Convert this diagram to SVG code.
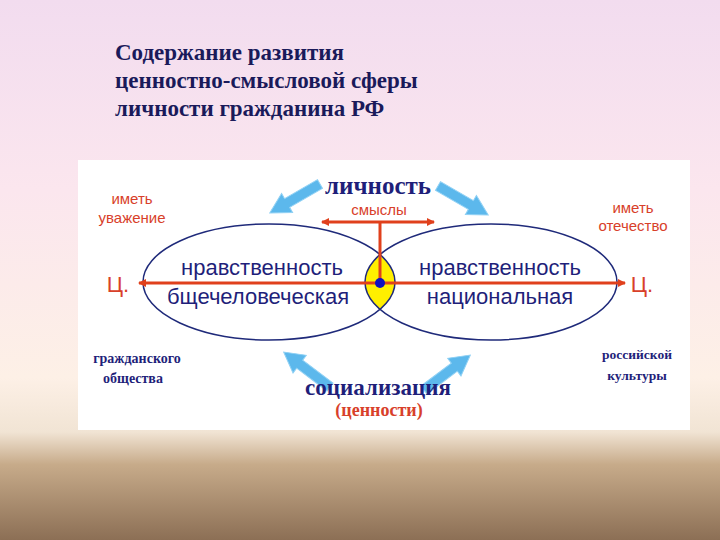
<svg xmlns="http://www.w3.org/2000/svg" width="720" height="540" viewBox="0 0 720 540">
<defs>
<linearGradient id="bg" x1="0" y1="0" x2="0" y2="1">
<stop offset="0" stop-color="#f2dcef"/>
<stop offset="0.35" stop-color="#fbe6ee"/>
<stop offset="0.7" stop-color="#fdf0e6"/>
<stop offset="0.8" stop-color="#f1e4d4"/>
<stop offset="0.86" stop-color="#c7ab8a"/>
<stop offset="1" stop-color="#8c6f55"/>
</linearGradient>
<marker id="ra" markerWidth="8" markerHeight="8" refX="7" refY="4" orient="auto-start-reverse" markerUnits="userSpaceOnUse"><path d="M0,0 L8,4 L0,8 Z" fill="#e0401c"/></marker>
<path id="barrow" d="M0,-5 L38,-5 L38,-11 L58,0 L38,11 L38,5 L0,5 Z"/>
</defs>
<style>
.nav{fill:#1f1f7a}
.ser{font-family:"Liberation Serif",serif;font-weight:bold}
.san{font-family:"Liberation Sans",Arial,sans-serif}
.red{fill:#d8402a}
.ell{fill:none;stroke:#1f2a7a;stroke-width:1.5}
.bl{fill:#5cb8ec;stroke:#8fd0f4;stroke-width:1}
.ln{stroke:#e0401c;stroke-width:3;fill:none}
</style>
<rect width="720" height="540" fill="url(#bg)"/>
<g id="title" class="ser" font-size="23" fill="#1a1a5a">
<text x="115" y="60">Содержание развития</text>
<text x="115" y="88">ценностно-смысловой сферы</text>
<text x="115" y="116">личности гражданина РФ</text>
</g>
<rect x="78" y="160" width="612" height="270" fill="#ffffff"/>
<g id="ellipses">
<path d="M380,254.6 A126 58 0 0 1 380,309.4 A126 58 0 0 1 380,254.6 Z" fill="#ffef00"/>
<ellipse class="ell" cx="269" cy="282" rx="126" ry="58"/>
<ellipse class="ell" cx="491" cy="282" rx="126" ry="58"/>
</g>
<g id="connectors">
<line class="ln" x1="139" y1="283" x2="625" y2="283" marker-start="url(#ra)" marker-end="url(#ra)"/>
<line class="ln" x1="380" y1="222" x2="380" y2="283"/>
<line class="ln" x1="322" y1="222" x2="434" y2="222" marker-start="url(#ra)" marker-end="url(#ra)"/>
<circle cx="380" cy="283" r="5" fill="#1010c0"/>
<use href="#barrow" class="bl" transform="translate(320,184) rotate(150)"/>
<use href="#barrow" class="bl" transform="translate(438,186) rotate(30)"/>
<use href="#barrow" class="bl" transform="translate(330,387) rotate(217)"/>
<use href="#barrow" class="bl" transform="translate(424,390) rotate(-37)"/>
</g>
<g id="lichnost"><text class="ser nav" x="378" y="194" font-size="25" text-anchor="middle">личность</text></g>
<g id="smysly"><text class="san red" x="379" y="215" font-size="15" text-anchor="middle">смыслы</text></g>
<g id="uvazhenie" class="san red" font-size="15" text-anchor="middle"><text x="132" y="204">иметь</text><text x="132" y="223">уважение</text></g>
<g id="otechestvo" class="san red" font-size="15" text-anchor="middle"><text x="633" y="213">иметь</text><text x="633" y="231">отечество</text></g>
<g id="c-left"><text class="san red" x="118" y="292" font-size="22" text-anchor="middle">Ц.</text></g>
<g id="c-right"><text class="san red" x="642" y="292" font-size="22" text-anchor="middle">Ц.</text></g>
<g id="left-node" class="san nav" font-size="22" text-anchor="middle"><text x="262" y="275">нравственность</text><text x="258" y="304">бщечеловеческая</text></g>
<g id="right-node" class="san nav" font-size="22" text-anchor="middle"><text x="500" y="275">нравственность</text><text x="500" y="304">национальная</text></g>
<g id="grazhd" class="ser nav" font-size="14" text-anchor="middle"><text x="137" y="363">гражданского</text><text x="133" y="383">общества</text></g>
<g id="ross" class="ser nav" font-size="13.5" text-anchor="middle"><text x="637" y="359">российской</text><text x="637" y="380">культуры</text></g>
<g id="socializ"><text class="ser nav" x="378" y="395" font-size="23" text-anchor="middle">социализация</text></g>
<g id="cennosti"><text class="ser red" x="379" y="416" font-size="18" font-weight="normal" text-anchor="middle">(ценности)</text></g>
</svg>
